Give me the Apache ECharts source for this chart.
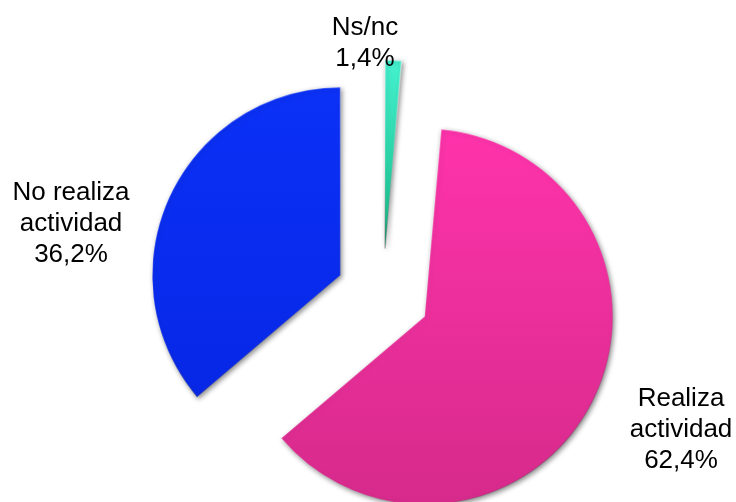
<!DOCTYPE html>
<html>
<head>
<meta charset="utf-8">
<script src="https://cdn.jsdelivr.net/npm/echarts@6/dist/echarts.min.js"></script>
<style>
  html, body { margin: 0; padding: 0; background: #ffffff; }
  #chart { width: 736px; height: 502px; }
</style>
</head>
<body>
<div id="chart"></div>
<script>
// Distribución de la muestra según realización de actividad (%)
const categories = ['Ns/nc', 'Realiza\nactividad', 'No realiza\nactividad'];
const percentages = [1.4, 62.4, 36.2];

// Slice fills (top colour, bottom colour)
const sliceColors = [
  ['#45f2d0', '#14b983'],
  ['#ff33ab', '#d62a8b'],
  ['#0b31f7', '#0727e6']
];

// Label centre points on the canvas
const labelSpots = [
  [365, 43],
  [681, 430],
  [71, 224]
];

function fmt(v) {
  return v.toFixed(1).replace('.', ',') + '%';
}

const chart = echarts.init(document.getElementById('chart'), null, { renderer: 'canvas' });

const data = categories.map((name, i) => ({
  name: name,
  value: percentages[i],
  selected: true,
  itemStyle: {
    color: new echarts.graphic.LinearGradient(0, 0, 0, 1, [
      { offset: 0, color: sliceColors[i][0] },
      { offset: 1, color: sliceColors[i][1] }
    ]),
    borderWidth: 1.5,
    borderColor: new echarts.graphic.LinearGradient(0, 0, 1, 1, [
      { offset: 0, color: 'rgba(255,255,255,0.45)' },
      { offset: 0.5, color: 'rgba(255,255,255,0.1)' },
      { offset: 1, color: 'rgba(0,0,0,0.3)' }
    ]),
    shadowColor: 'rgba(0,0,0,0.45)',
    shadowBlur: 5,
    shadowOffsetX: 1.5,
    shadowOffsetY: 2
  }
}));

// Category labels with their percentages
const labels = categories.map((name, i) => ({
  type: 'text',
  x: labelSpots[i][0],
  y: labelSpots[i][1],
  z: 10,
  style: {
    text: name + '\n' + fmt(percentages[i]),
    fontFamily: 'Liberation Sans, Arial, sans-serif',
    fontSize: 26,
    lineHeight: 31,
    fill: '#000000',
    align: 'center',
    verticalAlign: 'middle'
  }
}));

chart.setOption({
  animation: false,
  backgroundColor: '#ffffff',
  graphic: labels,
  series: [{
    type: 'pie',
    center: [383, 295],
    radius: 188,
    startAngle: 90,
    clockwise: true,
    selectedMode: 'multiple',
    selectedOffset: 47,
    data: data,
    label: { show: false },
    labelLine: { show: false },
    emphasis: { disabled: true },
    select: { itemStyle: {} }
  }]
});
</script>
</body>
</html>
